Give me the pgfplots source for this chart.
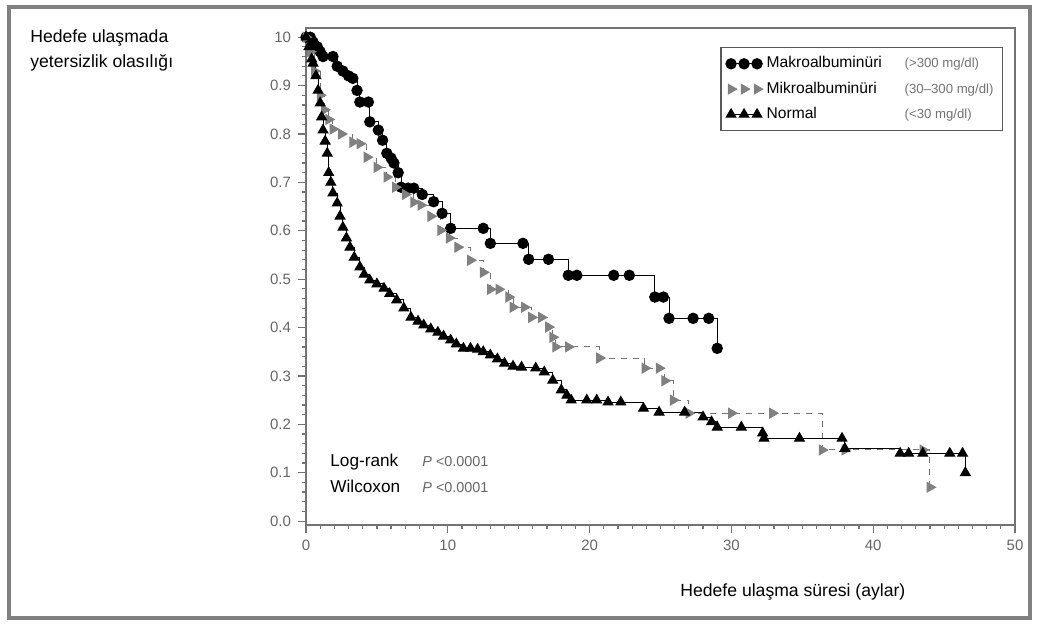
\documentclass[border=0pt]{standalone}
\usepackage{pgfplots}
\pgfplotsset{compat=1.18}
\usepackage{fontspec}
\setmainfont{Liberation Sans}

\begin{document}
\begin{tikzpicture}
\path[use as bounding box] (-153pt,-49.5pt) rectangle (365.5pt,262.5pt);
\fill[white] (-153pt,-49.5pt) rectangle (365.5pt,262.5pt);
\draw[black!50, line width=1.6pt] (-148.5pt,-46.5pt) rectangle (362pt,259pt);
\begin{axis}[
    at={(0pt,0pt)}, anchor=south west,
    scale only axis, width=354.5pt, height=248.5pt,
    xmin=0, xmax=50, ymin=-0.008, ymax=1.019,
    axis line style={black!55, line width=0.9pt},
    xtick={0,10,20,30,40,50},
    ytick={0,0.1,0.2,0.3,0.4,0.5,0.6,0.7,0.8,0.9,1.0},
    yticklabels={0.0,0.1,0.2,0.3,0.4,0.5,0.6,0.7,0.8,0.9,10},
    minor x tick num=9, minor y tick num=4,
    tick align=outside, xtick pos=bottom, ytick pos=left,
    major tick length=4pt, minor tick length=2pt,
    tick style={black!55, line width=0.6pt},
    ticklabel style={font=\fontsize{7.5}{8}\selectfont, text=black!60},
    /pgf/number format/assume math mode=true,
    legend style={at={(0.584,0.962)}, anchor=north west, draw=black!65,
        line width=0.8pt, font=\fontsize{7.8}{9}\selectfont,
        row sep=1.5pt, inner sep=2.5pt},
    legend cell align=left,
    legend image code/.code={\draw[mark repeat=1,#1] plot coordinates {(0pt,0pt)(6.5pt,0pt)(13pt,0pt)};},
]
% Makroalbuminuri
\addplot[const plot, black, line width=0.5pt, mark=*, mark size=2.6pt,
    mark options={solid, fill=black}]
    coordinates {
    (0,1.0)(0.3,1.0)(0.5,0.99)(0.8,0.98)(1.0,0.97)(1.2,0.96)(1.9,0.96)
    (2.2,0.94)(2.6,0.93)(3.0,0.92)(3.3,0.915)(3.6,0.89)(3.8,0.866)(4.4,0.866)
    (4.5,0.825)(5.1,0.808)(5.4,0.787)(5.7,0.76)(6.0,0.75)(6.2,0.74)(6.5,0.72)
    (6.7,0.69)(7.2,0.688)(7.6,0.688)(8.2,0.675)(9.0,0.66)(9.6,0.636)
    (10.2,0.605)(12.5,0.605)(13.0,0.574)(15.3,0.574)(15.7,0.541)(17.1,0.541)
    (18.5,0.508)(19.1,0.508)(21.7,0.508)(22.8,0.508)(24.6,0.463)(25.2,0.463)
    (25.6,0.419)(27.3,0.419)(28.4,0.419)(29.0,0.357)
    };
\addlegendentry{\makebox[69pt][l]{Makroalbuminüri}{\color{black!55}\fontsize{6.6}{7}\selectfont (>300 mg/dl)}}
% Mikroalbuminuri
\addplot[const plot, black!55, dashed, line width=0.5pt, mark=triangle*, mark size=2.8pt,
    mark options={solid, rotate=-90, fill=black!50, draw=black!50}]
    coordinates {
    (0,1.0)(0.3,0.97)(0.6,0.93)(1.0,0.88)(1.3,0.85)(1.6,0.83)(1.9,0.81)
    (2.5,0.80)(3.3,0.783)(3.8,0.78)(4.3,0.752)(5.0,0.731)(5.7,0.711)(6.3,0.69)
    (7.0,0.675)(7.6,0.659)(8.1,0.653)(8.8,0.63)(9.5,0.601)(10.1,0.585)
    (10.7,0.566)(11.6,0.539)(12.5,0.514)(13.0,0.479)(13.6,0.479)(14.3,0.463)
    (14.6,0.442)(15.4,0.442)(15.9,0.421)(16.6,0.421)(17.1,0.401)(17.4,0.38)
    (17.6,0.36)(18.5,0.36)(20.7,0.337)(23.9,0.316)(24.9,0.316)(25.3,0.29)
    (25.9,0.25)(27.0,0.223)(30.0,0.223)(32.9,0.223)(36.4,0.147)(38.0,0.147)
    (43.5,0.147)(44.0,0.07)
    };
\addlegendentry{\makebox[69pt][l]{Mikroalbuminüri}{\color{black!55}\fontsize{6.6}{7}\selectfont (30–300 mg/dl)}}
% Normal
\addplot[const plot, black, line width=0.5pt, mark=triangle*, mark size=2.8pt,
    mark options={solid, fill=black}]
    coordinates {
    (0,1.0)(0.2,0.98)(0.4,0.955)(0.5,0.946)(0.7,0.92)(0.85,0.89)(1.0,0.864)
    (1.1,0.835)(1.2,0.808)(1.35,0.785)(1.5,0.76)(1.6,0.72)(1.75,0.70)
    (1.9,0.678)(2.2,0.657)(2.4,0.63)(2.6,0.607)(2.85,0.585)(3.1,0.566)
    (3.4,0.545)(3.8,0.525)(4.1,0.51)(4.5,0.498)(5.0,0.49)(5.5,0.481)
    (5.9,0.47)(6.4,0.457)(6.9,0.44)(7.4,0.421)(7.9,0.413)(8.3,0.405)
    (8.8,0.397)(9.3,0.39)(9.7,0.382)(10.2,0.374)(10.6,0.366)(11.1,0.357)
    (11.6,0.357)(12.1,0.355)(12.5,0.35)(13.0,0.343)(13.5,0.335)(14.0,0.326)
    (14.6,0.32)(15.2,0.318)(16.2,0.316)(16.8,0.308)(17.4,0.291)(18.0,0.271)
    (18.4,0.26)(18.7,0.25)(19.8,0.25)(20.5,0.25)(21.3,0.246)(22.2,0.246)
    (23.8,0.233)(24.9,0.225)(26.7,0.225)(28.0,0.215)(28.6,0.205)(29.0,0.194)
    (30.7,0.194)(32.2,0.182)(32.3,0.171)(34.8,0.171)(37.8,0.171)(38.0,0.15)
    (41.9,0.14)(42.5,0.14)(43.5,0.14)(45.4,0.14)(46.3,0.14)(46.5,0.10)
    };
\addlegendentry{\makebox[69pt][l]{Normal}{\color{black!55}\fontsize{6.6}{7}\selectfont (<30 mg/dl)}}
\end{axis}
\node[anchor=base west, font=\fontsize{8.8}{10}\selectfont, inner sep=0pt] at (-138pt,241pt) {Hedefe ulaşmada};
\node[anchor=base west, font=\fontsize{8.8}{10}\selectfont, inner sep=0pt] at (-138pt,228.5pt) {yetersizlik olasılığı};
\node[anchor=base west, font=\fontsize{8.6}{10}\selectfont, inner sep=0pt] at (12pt,29pt) {Log-rank};
\node[anchor=base west, font=\fontsize{8.6}{10}\selectfont, inner sep=0pt] at (12pt,16pt) {Wilcoxon};
\node[anchor=base west, font=\fontsize{7.2}{9}\selectfont, text=black!60, inner sep=0pt] at (58pt,29pt) {\textit{P} <0.0001};
\node[anchor=base west, font=\fontsize{7.2}{9}\selectfont, text=black!60, inner sep=0pt] at (58pt,16pt) {\textit{P} <0.0001};
\node[anchor=base west, font=\fontsize{8.8}{10}\selectfont, inner sep=0pt] at (187pt,-36pt) {Hedefe ulaşma süresi (aylar)};
\end{tikzpicture}
\end{document}
